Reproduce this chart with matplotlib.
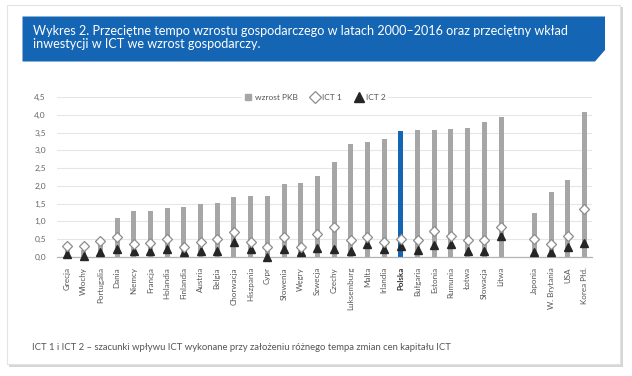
import matplotlib
matplotlib.use("Agg")
import matplotlib.pyplot as plt
from matplotlib.patches import Rectangle, Polygon
from matplotlib.lines import Line2D
import numpy as np

plt.rcParams['font.family'] = ['Lato', 'DejaVu Sans']

countries = ["Grecja", "Włochy", "Portugalia", "Dania", "Niemcy", "Francja", "Holandia",
             "Finlandia", "Austria", "Belgia", "Chorwacja", "Hiszpania", "Cypr", "Słowenia",
             "Węgry", "Szwecja", "Czechy", "Luksemburg", "Malta", "Irlandia", "Polska",
             "Bułgaria", "Estonia", "Rumunia", "Łotwa", "Słowacja", "Litwa",
             "Japonia", "W. Brytania", "USA", "Korea Płd."]
gdp = [0.25, 0.20, 0.40, 1.10, 1.30, 1.29, 1.37, 1.40, 1.49, 1.53, 1.68, 1.72, 1.72, 2.04,
       2.09, 2.28, 2.68, 3.18, 3.25, 3.31, 3.56, 3.58, 3.58, 3.61, 3.64, 3.81, 3.94,
       1.23, 1.82, 2.17, 4.08]
ict1 = [0.31, 0.31, 0.45, 0.56, 0.36, 0.40, 0.49, 0.28, 0.42, 0.49, 0.69, 0.42, 0.28, 0.56,
        0.28, 0.64, 0.85, 0.47, 0.55, 0.41, 0.50, 0.47, 0.73, 0.59, 0.47, 0.47, 0.85,
        0.50, 0.36, 0.58, 1.34]
ict2 = [0.08, 0.03, 0.14, 0.21, 0.16, 0.17, 0.22, 0.14, 0.17, 0.17, 0.41, 0.21, 0.00, 0.22,
        0.12, 0.25, 0.21, 0.17, 0.35, 0.21, 0.31, 0.19, 0.33, 0.35, 0.16, 0.16, 0.58,
        0.14, 0.14, 0.28, 0.38]
yticks = [0.0, 0.5, 1.0, 1.5, 2.0, 2.5, 3.0, 3.5, 4.0, 4.5]
highlight = "Polska"

W, H = 632, 376
fig = plt.figure(figsize=(W / 100, H / 100), dpi=100)
fig.patch.set_facecolor("white")

def fx(px):
    return px / W

def fy(py):
    return 1 - py / H

# panel with shadow
fig.patches.append(Rectangle((fx(9), fy(367)), fx(614), fy(7) - fy(367),
                             transform=fig.transFigure, facecolor="#d6d6d6", edgecolor="none", zorder=0))
fig.patches.append(Rectangle((fx(7), fy(364)), fx(613), fy(5) - fy(364),
                             transform=fig.transFigure, facecolor="white", edgecolor="#e3e3e3",
                             linewidth=0.8, zorder=0.1))

# header box with cut corner
blue = "#1466b4"
hdr = [(fx(22.5), fy(16.5)), (fx(605), fy(16.5)), (fx(605), fy(50)),
       (fx(595), fy(61.5)), (fx(22.5), fy(61.5))]
fig.patches.append(Polygon(hdr, closed=True, transform=fig.transFigure,
                           facecolor=blue, edgecolor="none", zorder=0.2))
fig.text(fx(33), fy(31), "Wykres 2. Przeciętne tempo wzrostu gospodarczego w latach 2000–2016 oraz przeciętny wkład",
         color="white", fontsize=9.1, va="center", ha="left", zorder=2)
fig.text(fx(33), fy(43.5), "inwestycji w ICT we wzrost gospodarczy.",
         color="white", fontsize=9.1, va="center", ha="left", zorder=2)

# axes
ax = fig.add_axes([fx(57), fy(256.7), fx(592) - fx(57), fy(97.3) - fy(256.7)])
ax.set_zorder(3)
ax.set_facecolor("none")
n1 = 27
pos = list(range(n1)) + [n1 + 1 + i for i in range(len(countries) - n1)]
colors = [blue if c == highlight else "#a6a6a6" for c in countries]
ax.bar(pos, gdp, width=0.3, color=colors, zorder=2)
ax.plot(pos, ict1, linestyle="none", marker="D", markersize=5.5, markerfacecolor="white",
        markeredgecolor="#8c8c8c", markeredgewidth=0.9, zorder=4, clip_on=False)
ax.plot(pos, ict2, linestyle="none", marker="^", markersize=6, markerfacecolor="#262626",
        markeredgecolor="#262626", zorder=3, clip_on=False)

ax.set_ylim(0, 4.5)
ax.set_xlim(-0.6, 31.45)
ax.set_yticks(yticks)
ax.set_yticklabels([f"{v:.1f}".replace(".", ",") for v in yticks], fontsize=6, color="#666666")
ax.set_xticks(pos)
ax.set_xticklabels(countries, rotation=90, fontsize=5.8, color="#555555")
for lbl in ax.get_xticklabels():
    if lbl.get_text() == highlight:
        lbl.set_fontweight("bold")
        lbl.set_color("#333333")
ax.tick_params(axis="both", length=0)
ax.tick_params(axis="x", pad=7.5)
ax.tick_params(axis="y", pad=8)
ax.grid(axis="y", color="#e6e6e6", linewidth=0.8, zorder=0)
for s in ["top", "right", "left"]:
    ax.spines[s].set_visible(False)
ax.spines["bottom"].set_color("#b3b3b3")
ax.spines["bottom"].set_linewidth(0.9)

handles = [Line2D([], [], linestyle="none", marker="s", markersize=4.5, color="#a6a6a6"),
           Line2D([], [], linestyle="none", marker="D", markersize=6, markerfacecolor="white",
                  markeredgecolor="#8c8c8c", markeredgewidth=0.9),
           Line2D([], [], linestyle="none", marker="^", markersize=6.5, color="#262626")]
leg = ax.legend(handles, ["wzrost PKB", "ICT 1", "ICT 2"], ncol=3, loc="center",
                bbox_to_anchor=((315 - 57) / (592 - 57), 1.0), frameon=True, fontsize=6,
                handlelength=1.0, handletextpad=0.3, columnspacing=1.6, borderpad=0.3,
                labelcolor="#555555")
leg.get_frame().set_facecolor("white")
leg.get_frame().set_edgecolor("none")
leg.get_frame().set_alpha(1)
leg.set_zorder(5)

fig.text(fx(32), fy(348), "ICT 1 i ICT 2 – szacunki wpływu ICT wykonane przy założeniu różnego tempa zmian cen kapitału ICT",
         fontsize=6.85, color="#555555", va="center", ha="left")

fig.savefig("out.png", dpi=100)
